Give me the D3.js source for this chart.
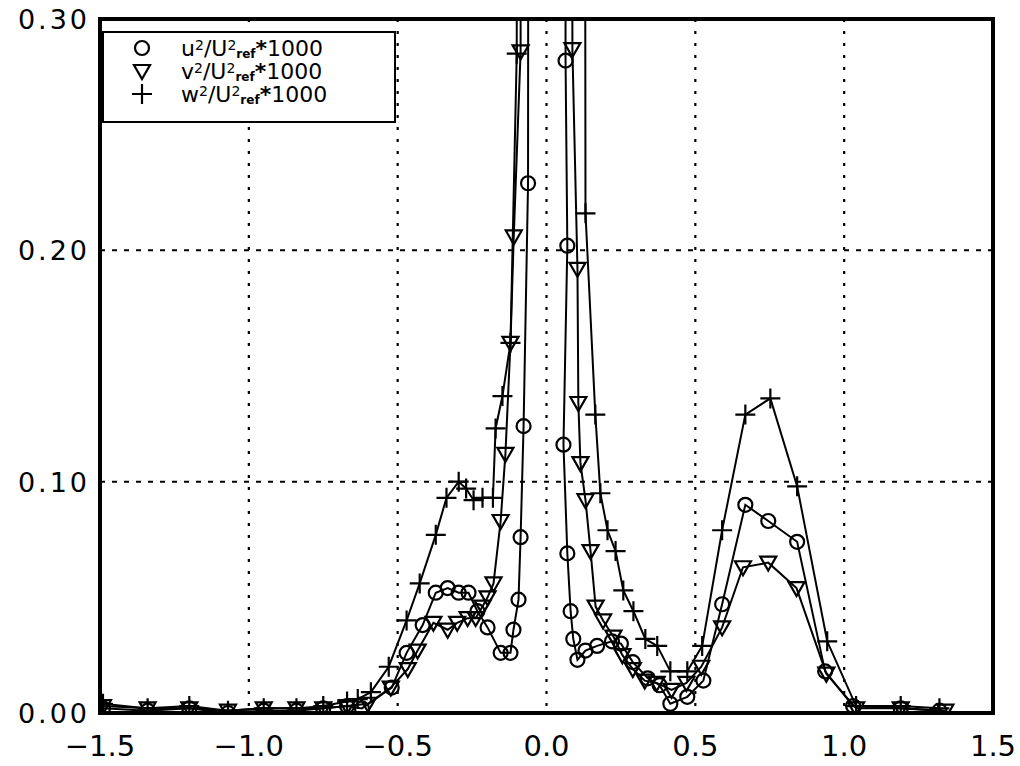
<!DOCTYPE html>
<html><head><meta charset="utf-8">
<script src="https://cdn.jsdelivr.net/npm/d3@7"></script>
<style>body{margin:0;background:#fff}</style>
</head><body><svg id="c" width="1020" height="766"></svg>
<script>
// ---- data ----
const xTicks = [-1.5, -1.0, -0.5, 0.0, 0.5, 1.0, 1.5];
const yTicks = [0.00, 0.10, 0.20, 0.30];
const xGrid = [-1.0, -0.5, 0.0, 0.5, 1.0];
const yGrid = [0.10, 0.20];
const seriesNames = ["u", "v", "w"];

const uX = [-1.49,-1.34,-1.20,-1.07,-0.95,-0.84,-0.75,-0.67,-0.62,-0.52,-0.47,-0.416,-0.372,-0.332,-0.295,-0.262,-0.232,-0.198,-0.154,-0.121,-0.111,-0.094,-0.087,-0.077,-0.062,-0.055,
            0.060,0.064,0.070,0.057,0.070,0.081,0.090,0.104,0.131,0.17,0.22,0.25,0.29,0.34,0.38,0.416,0.473,0.527,0.59,0.668,0.745,0.842,0.936,1.03,1.19,1.32];
const uY = [0.002,0.001,0.002,0.000,0.001,0.001,0.002,0.003,0.002,0.011,0.026,0.038,0.052,0.054,0.052,0.052,0.044,0.037,0.026,0.026,0.036,0.049,0.076,0.124,0.229,1.5,
            1.5,0.282,0.202,0.116,0.069,0.044,0.032,0.023,0.027,0.029,0.031,0.030,0.022,0.015,0.012,0.004,0.007,0.014,0.047,0.090,0.083,0.074,0.018,0.003,0.002,0.001];

const vX = [-1.49,-1.34,-1.20,-1.07,-0.95,-0.84,-0.75,-0.67,-0.60,-0.523,-0.466,-0.433,-0.38,-0.332,-0.30,-0.265,-0.238,-0.215,-0.198,-0.178,-0.154,-0.138,-0.121,-0.110,-0.087,-0.075,
            0.082,0.087,0.104,0.107,0.114,0.131,0.148,0.165,0.19,0.225,0.255,0.29,0.33,0.37,0.42,0.47,0.52,0.59,0.66,0.745,0.84,0.94,1.04,1.19,1.34];
const vY = [0.003,0.002,0.002,0.001,0.002,0.002,0.002,0.003,0.004,0.011,0.019,0.027,0.039,0.036,0.039,0.041,0.041,0.046,0.050,0.056,0.083,0.112,0.160,0.206,0.286,1.5,
            1.5,0.287,0.192,0.134,0.108,0.092,0.070,0.046,0.040,0.033,0.025,0.019,0.014,0.013,0.010,0.013,0.020,0.037,0.063,0.065,0.054,0.017,0.002,0.002,0.001];

const wX = [-1.49,-1.34,-1.20,-1.07,-0.95,-0.84,-0.75,-0.67,-0.634,-0.59,-0.53,-0.47,-0.426,-0.372,-0.336,-0.295,-0.27,-0.245,-0.215,-0.18,-0.171,-0.148,-0.121,-0.10,-0.09,
            0.12,0.131,0.164,0.181,0.205,0.232,0.258,0.292,0.332,0.372,0.416,0.473,0.523,0.59,0.668,0.752,0.842,0.943,1.04,1.19,1.32];
const wY = [0.004,0.002,0.003,0.001,0.002,0.002,0.003,0.005,0.006,0.009,0.020,0.040,0.056,0.077,0.093,0.100,0.097,0.092,0.093,0.093,0.123,0.137,0.160,0.285,1.5,
            1.5,0.216,0.129,0.095,0.079,0.070,0.053,0.044,0.032,0.029,0.018,0.018,0.029,0.079,0.129,0.136,0.098,0.031,0.003,0.003,0.002];

// ---- layout ----
const svg = d3.select("#c");
const L = 100, R = 993, T = 19, B = 713;
const x = d3.scaleLinear().domain([-1.5, 1.5]).range([L, R]);
const y = d3.scaleLinear().domain([0, 0.30]).range([B, T]);
const font = "'DejaVu Sans', 'Liberation Sans', sans-serif";

svg.append("defs").append("clipPath").attr("id", "plot")
  .append("rect").attr("x", L).attr("y", T).attr("width", R - L).attr("height", B - T);

// grid
svg.append("g").selectAll("line").data(xGrid).join("line")
  .attr("x1", d => x(d)).attr("x2", d => x(d)).attr("y1", T).attr("y2", B)
  .attr("stroke", "#000").attr("stroke-width", 2.2).attr("stroke-dasharray", "3,9");
svg.append("g").selectAll("line").data(yGrid).join("line")
  .attr("x1", L).attr("x2", R).attr("y1", d => y(d)).attr("y2", d => y(d))
  .attr("stroke", "#000").attr("stroke-width", 2).attr("stroke-dasharray", "5,7");

// series
const series = [
  {name: "u", xs: uX, ys: uY, sym: "circle"},
  {name: "v", xs: vX, ys: vY, sym: "tri"},
  {name: "w", xs: wX, ys: wY, sym: "plus"}
];
const line = d3.line().x(d => x(d[0])).y(d => y(d[1]));
const gData = svg.append("g").attr("clip-path", "url(#plot)");

function drawMarker(g, sym, cx, cy) {
  if (sym === "circle") {
    g.append("circle").attr("cx", cx).attr("cy", cy).attr("r", 7)
      .attr("fill", "none").attr("stroke", "#000").attr("stroke-width", 2.2);
  } else if (sym === "tri") {
    g.append("path").attr("d", `M${cx-8},${cy-6}L${cx+8},${cy-6}L${cx},${cy+8}Z`)
      .attr("fill", "none").attr("stroke", "#000").attr("stroke-width", 2.2);
  } else {
    g.append("path").attr("d", `M${cx-10},${cy}H${cx+10}M${cx},${cy-10}V${cy+10}`)
      .attr("fill", "none").attr("stroke", "#000").attr("stroke-width", 2.2);
  }
}

series.forEach(s => {
  const pts = s.xs.map((v, i) => [v, s.ys[i]]);
  gData.append("path").datum(pts).attr("d", line)
    .attr("fill", "none").attr("stroke", "#000").attr("stroke-width", 2);
  const gm = gData.append("g");
  pts.forEach(p => drawMarker(gm, s.sym, x(p[0]), y(p[1])));
});

// frame
svg.append("rect").attr("x", L).attr("y", T).attr("width", R - L).attr("height", B - T)
  .attr("fill", "none").attr("stroke", "#000").attr("stroke-width", 4);

// y tick labels
const fmtY = d3.format(".2f");
svg.append("g").selectAll("text").data(yTicks).join("text")
  .attr("x", 90).attr("y", d => y(d) + 10)
  .attr("text-anchor", "end").attr("font-family", font).attr("font-size", 27)
  .attr("letter-spacing", 3)
  .text(d => fmtY(d));

// x tick labels
const fmtX = d => (d < 0 ? "\u2212" : "") + d3.format(".1f")(Math.abs(d));
svg.append("g").selectAll("text").data(xTicks).join("text")
  .attr("x", d => x(d)).attr("y", 756)
  .attr("text-anchor", "middle").attr("font-family", font).attr("font-size", 29)
  .text(d => fmtX(d));

// legend
const lg = svg.append("g");
lg.append("rect").attr("x", 103).attr("y", 32).attr("width", 292).attr("height", 90)
  .attr("fill", "#fff").attr("stroke", "#000").attr("stroke-width", 2);
const rows = [48, 71, 94];
series.forEach((s, i) => {
  drawMarker(lg, s.sym, 142, rows[i]);
  const t = lg.append("text").attr("x", 181).attr("y", rows[i] + 8)
    .attr("font-family", font).attr("font-size", 22);
  t.append("tspan").text(s.name);
  t.append("tspan").attr("dy", -6).attr("font-size", 14).text("2");
  t.append("tspan").attr("dy", 6).text("/U");
  t.append("tspan").attr("dy", -6).attr("font-size", 14).text("2");
  t.append("tspan").attr("dy", 8).attr("font-size", 12).attr("font-weight", "bold").text("ref");
  t.append("tspan").attr("dy", -2).attr("font-weight", "bold").text("*");
  t.append("tspan").text("1000");
});
</script>
</body></html>
